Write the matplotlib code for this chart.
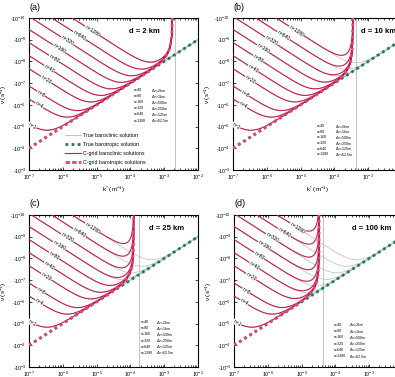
import numpy as np
import matplotlib
matplotlib.use('Agg')
import matplotlib.pyplot as plt
from matplotlib.ticker import LogLocator, FuncFormatter, NullFormatter, FixedLocator
from matplotlib.lines import Line2D

plt.rcParams['font.family'] = ['Liberation Sans', 'DejaVu Sans']
plt.rcParams['mathtext.default'] = 'regular'

# ---- values ----
panel_tags = ['(a)', '(b)', '(c)', '(d)']
grid_d_km = [2, 10, 25, 100]
cgrid_cutoff = [1.75e-3, 3.5e-4, 1.25e-4, 3.3e-5]   # k* where the C-grid curves go vertical
grey_line_k = [2.1e-3, 4.5e-4, 1.75e-4, 4.3e-5]     # thin vertical grey line

beta = 1e-11            # barotropic: |nu| = beta / k*
mode_n = [1, 4, 8, 20, 40, 80, 160, 320, 640, 1280]
lambda1 = 3.4e-7        # deformation wavenumber of the n=1 curve (scales with n)

levels_n = [40, 80, 160, 320, 640, 1280]
levels_dz = ['2km', '1km', '500m', '250m', '125m', '62.5m']

# ---- layout (pixels of the 395x377 figure) ----
W, H = 395, 377
axes_px = [(29, 18), (233, 18), (29, 215), (234, 215)]   # left, top
ax_w, ax_h = 169, 152
label_logk = [-6.91, -6.70, -6.64, -6.49, -6.40, -6.26, -6.11, -5.87, -5.51, -5.125]
dtext_x = [0.59, 0.76, 0.71, 0.70]
table_px = [(134, 151, 90, 6.1), (317, 335, 126, 5.7), (141, 156, 322, 6.2), (334, 349, 325, 6.2)]

c_grey = '#b4bcc4'
c_green = '#1d7a52'
c_red = '#c41e44'
c_pink = '#e2457f'


def true_nu(k, lam):
    return beta * k / (k**2 + lam**2)


def cgrid_nu(k, kc, lam):
    ks = kc / np.pi * np.sin(np.pi * k / kc)
    km = 2 * kc / np.pi * np.sin(np.pi * k / (2 * kc))
    return beta * ks / (km**2 + lam**2)


fig = plt.figure(figsize=(W / 100, H / 100), dpi=100)
k_full = np.logspace(-7, -2, 1500)

for i in range(4):
    lx, ty = axes_px[i]
    ax = fig.add_axes([lx / W, 1 - (ty + ax_h) / H, ax_w / W, ax_h / H])
    kc = cgrid_cutoff[i]
    k_c = np.concatenate([np.logspace(-7, np.log10(kc * 0.999), 1500),
                          kc * (1 - np.logspace(-3, -10, 300))])

    ax.axvline(grey_line_k[i], color='#a8a8a8', lw=0.5, zorder=1)
    for n in mode_n:
        ax.plot(k_full, true_nu(k_full, lambda1 * n), color=c_grey, lw=0.5, zorder=2)
    ax.plot(k_full, beta / k_full, color=c_green, lw=2.0, ls=(0, (1, 1.2)), zorder=3)
    for n in mode_n:
        ax.plot(k_c, cgrid_nu(k_c, kc, lambda1 * n), color=c_red, lw=0.8, zorder=4)
    ax.plot(k_c, cgrid_nu(k_c, kc, 0.0), color=c_pink, lw=2.0, ls=(0, (1, 1.2)), zorder=5)

    for n, lk in zip(mode_n, label_logk):
        kk = 10**lk
        ax.text(kk, true_nu(kk, lambda1 * n), 'n=%d' % n, fontsize=3.6, rotation=-33,
                ha='center', va='center', zorder=6,
                bbox=dict(facecolor='white', edgecolor='none', pad=0.2))

    ax.set_xscale('log')
    ax.set_yscale('log')
    ax.set_xlim(1e-7, 1e-2)
    ax.set_ylim(1e-3, 1e-10)
    ax.xaxis.set_major_locator(FixedLocator([1e-7, 1e-6, 1e-5, 1e-4, 1e-3, 1e-2]))
    ax.xaxis.set_minor_locator(LogLocator(base=10, subs=np.arange(2, 10)))
    ax.xaxis.set_minor_formatter(NullFormatter())
    ax.xaxis.set_major_formatter(FuncFormatter(lambda v, p: r'10$^{%d}$' % round(np.log10(v))))
    ax.yaxis.set_major_locator(FixedLocator([10.0**e for e in range(-10, -2)]))
    ax.yaxis.set_minor_locator(FixedLocator([]))
    ax.yaxis.set_major_formatter(FuncFormatter(lambda v, p: r'-10$^{%d}$' % round(np.log10(v))))
    ax.tick_params(which='both', direction='in', top=True, right=True, labelsize=3.8,
                   width=0.5, pad=2)
    ax.tick_params(which='major', length=2.5)
    ax.tick_params(which='minor', length=1.3)
    for s in ax.spines.values():
        s.set_linewidth(0.8)
    ax.set_xlabel(r'k$^{*}$ (m$^{-1}$)', fontsize=4.6, labelpad=2)
    ax.set_ylabel(r'$\nu$ (s$^{-1}$)', fontsize=4.6, labelpad=1)

    ax.text(dtext_x[i], 0.91, 'd = %d km' % grid_d_km[i], transform=ax.transAxes,
            fontsize=5.5, fontweight='bold', ha='left', va='center')
    fig.text(lx / W, 1 - (ty - 11) / H, panel_tags[i], fontsize=6.5, ha='left', va='center')

    xn, xd, y0, dy = table_px[i]
    for j, (nn, dz) in enumerate(zip(levels_n, levels_dz)):
        yy = 1 - (y0 + j * dy) / H
        fig.text(xn / W, yy, 'n=%d' % nn, fontsize=2.6, ha='left', va='center')
        fig.text(xd / W, yy, r'$\Delta$z=' + dz, fontsize=2.6, ha='left', va='center')

    if i == 0:
        handles = [Line2D([], [], color=c_grey, lw=0.6),
                   Line2D([], [], color=c_green, lw=2.0, ls=(0, (1, 1.2))),
                   Line2D([], [], color=c_red, lw=0.8),
                   Line2D([], [], color=c_pink, lw=2.0, ls=(0, (1.6, 0.8)))]
        ax.legend(handles, ['True baroclinic solution', 'True barotropic solution',
                            'C-grid baroclinic solutions', 'C-grid barotropic solutions'],
                  loc='lower left', bbox_to_anchor=(0.2, 0.02), fontsize=3.8,
                  frameon=False, handlelength=3.0, labelspacing=0.75, handletextpad=0.5,
                  borderaxespad=0)

fig.savefig('out.png', dpi=100)
